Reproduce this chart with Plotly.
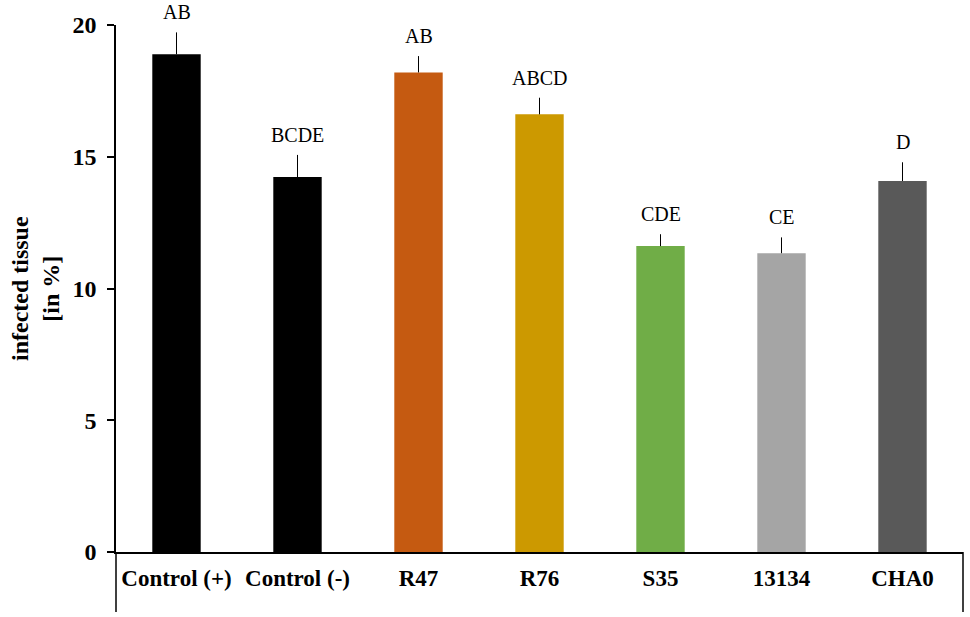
import plotly.graph_objects as go

# data
strains = ["Control (+)", "Control (-)", "R47", "R76", "S35", "13134", "CHA0"]
infected = [18.89, 14.23, 18.20, 16.61, 11.61, 11.34, 14.08]
err_top = [19.72, 15.07, 18.82, 17.24, 12.06, 11.94, 14.79]
letters = ["AB", "BCDE", "AB", "ABCD", "CDE", "CE", "D"]
colors = ["#000000", "#000000", "#C55A11", "#CC9900", "#70AD47", "#A5A5A5", "#595959"]

FONT = "Liberation Serif"

err_plus = [t - v for t, v in zip(err_top, infected)]

fig = go.Figure(go.Bar(
    x=strains, y=infected,
    marker=dict(color=colors, line=dict(width=0)),
    error_y=dict(type="data", symmetric=False, array=err_plus,
                 arrayminus=[0] * len(strains), color="black",
                 thickness=1, width=0),
))

# significance letters above error bars (x by category index, since "13134" looks numeric)
for i, (t, lab) in enumerate(zip(err_top, letters)):
    fig.add_annotation(x=i, y=t, text=lab, showarrow=False,
                       yanchor="bottom", yshift=7,
                       font=dict(family=FONT, size=20, color="black"))

# y title as two-line rotated text
fig.add_annotation(xref="paper", yref="paper", x=-0.095, y=0.5,
                   text="infected tissue<br>[in %]", textangle=-90,
                   showarrow=False, xanchor="center", yanchor="middle",
                   font=dict(family=FONT, size=24, color="black", weight="bold"))

# box lines around the category labels
for xp in (0, 1):
    fig.add_shape(type="line", xref="paper", yref="paper",
                  x0=xp, x1=xp, y0=0, y1=-60 / 527,
                  line=dict(color="black", width=1.5))

fig.update_layout(
    width=970, height=617,
    margin=dict(l=116, r=7, t=25, b=65),
    paper_bgcolor="white", plot_bgcolor="white",
    bargap=0.6, showlegend=False,
    font=dict(family=FONT, color="black"),
)
fig.update_xaxes(
    type="category", range=[-0.5, len(strains) - 0.5], automargin=False,
    showline=True, linecolor="black", linewidth=1.5,
    ticks="", ticklabelstandoff=5,
    tickfont=dict(family=FONT, size=23, color="black", weight="bold"),
)
fig.update_yaxes(
    range=[0, 20], tickvals=[0, 5, 10, 15, 20], automargin=False,
    showline=True, linecolor="black", linewidth=1.5,
    ticks="outside", ticklen=7, tickcolor="black", tickwidth=1.5,
    showgrid=False, zeroline=False, ticklabelstandoff=6,
    tickfont=dict(family=FONT, size=24, color="black", weight="bold"),
)

# drop the default 8px body margin so the figure fills the window
fig.write_html("out.html", config={"displayModeBar": False},
               post_script="document.body.style.margin='0';")
